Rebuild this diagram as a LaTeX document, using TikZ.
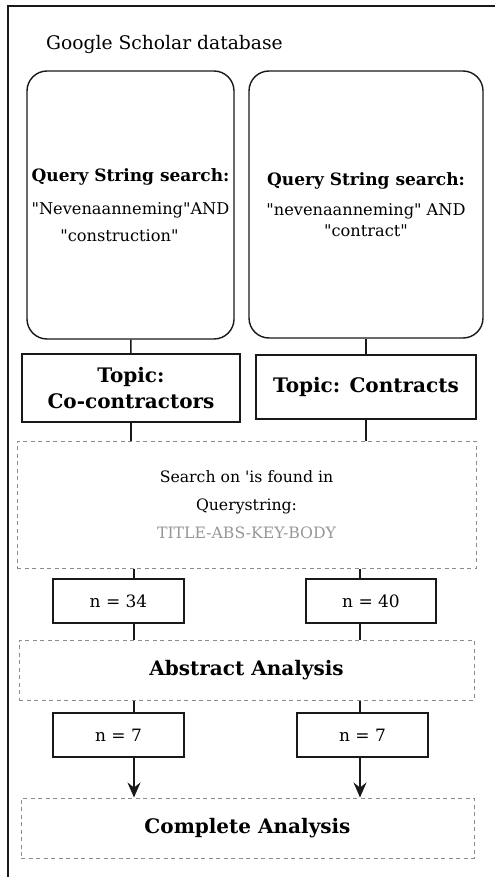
\documentclass[tikz,border=0pt]{standalone}
\usepackage{fontspec}
\setmainfont{DejaVu Serif}[Ligatures=TeXOff]
\usetikzlibrary{arrows.meta,positioning}
\definecolor{ink}{RGB}{25,25,25}
\definecolor{dashgrey}{RGB}{140,140,140}
\definecolor{fieldgrey}{RGB}{150,150,150}
\newcommand{\qhead}{{\fontsize{17}{27}\selectfont\bfseries Query String search:}}
\tikzset{
  >={Stealth[length=15pt,width=13pt,inset=5pt]},
  query/.style={draw=ink,line width=1.4pt,rounded corners=20pt,align=center,
    font=\fontsize{16.2}{27}\selectfont},
  topic/.style={draw=ink,line width=1.4pt,align=center,
    font=\fontsize{20}{26}\selectfont\bfseries},
  count/.style={draw=ink,line width=1.4pt,minimum width=131pt,minimum height=44pt,
    font=\fontsize{17}{20}\selectfont},
  stage/.style={draw=dashgrey,line width=1pt,dash pattern=on 4pt off 3.5pt,align=center},
  link/.style={draw=ink,line width=1.4pt},
}

\begin{document}
\begin{tikzpicture}[x=1pt,y=-1pt]
  \useasboundingbox (0,0) rectangle (495,877);
  % open frame round the whole flow
  \draw[ink,line width=1.8pt] (8,877) -- (8,6) -- (495,6);
  \node[anchor=base west,inner sep=0pt,font=\fontsize{18.7}{22}\selectfont] (db) at (46,50) {Google Scholar database};

  % the two search strings
  \node[query,minimum width=207pt,minimum height=268pt] (qleft) at (130.5,205)
    {\qhead\\[6pt] "Nevenaanneming"AND\\ "construction"\hspace*{22pt}};
  \node[query,minimum width=234pt,minimum height=267pt] (qright) at (366,204.5)
    {\qhead\\[3pt] "nevenaanneming" AND\\[-6pt] "contract"};

  % topics
  \node[topic,minimum width=218pt,minimum height=68pt] (tleft) at (131,388) {Topic:\\Co-contractors};
  \node[topic,minimum width=220pt,minimum height=64pt] (tright) at (366,387) {Topic: Contracts};

  % screening stages
  \node[stage,minimum width=459pt,minimum height=127pt,font=\fontsize{15.7}{28}\selectfont] (search) at (246.5,504.5)
    {Search on 'is found in\\Querystring:\\\textcolor{fieldgrey}{TITLE-ABS-KEY-BODY}};
  \node[count] (nleft) at (118.5,601) {n = 34};
  \node[count,minimum width=130pt] (nright) at (371,601) {n = 40};
  \node[stage,minimum width=455pt,minimum height=60pt,font=\fontsize{20}{22}\selectfont\bfseries] (abstract) at (246.5,670) {Abstract Analysis};
  \node[count] (kleft) at (118.5,735) {n = 7};
  \node[count] (kright) at (362.5,735) {n = 7};
  \node[stage,minimum width=453pt,minimum height=60pt,font=\fontsize{20}{22}\selectfont\bfseries] (complete) at (247.5,828) {Complete Analysis};

  \coordinate (lane1) at (134,0);
  \coordinate (lane2) at (360,0);

  \draw[link] (qleft) -- (tleft);
  \draw[link] (qright) -- (tright);
  \draw[link] (tleft.south) -- (tleft.south |- search.north);
  \draw[link] (tright.south) -- (tright.south |- search.north);
  \draw[link] (search.south -| lane1) -- (nleft.north -| lane1);
  \draw[link] (search.south -| lane2) -- (nright.north -| lane2);
  \draw[link] (nleft.south -| lane1) -- (abstract.north -| lane1);
  \draw[link] (nright.south -| lane2) -- (abstract.north -| lane2);
  \draw[link] (abstract.south -| lane1) -- (kleft.north -| lane1);
  \draw[link] (abstract.south -| lane2) -- (kright.north -| lane2);
  \draw[link,->] (kleft.south -| lane1) -- (complete.north -| lane1);
  \draw[link,->] (kright.south -| lane2) -- (complete.north -| lane2);
\end{tikzpicture}
\end{document}
